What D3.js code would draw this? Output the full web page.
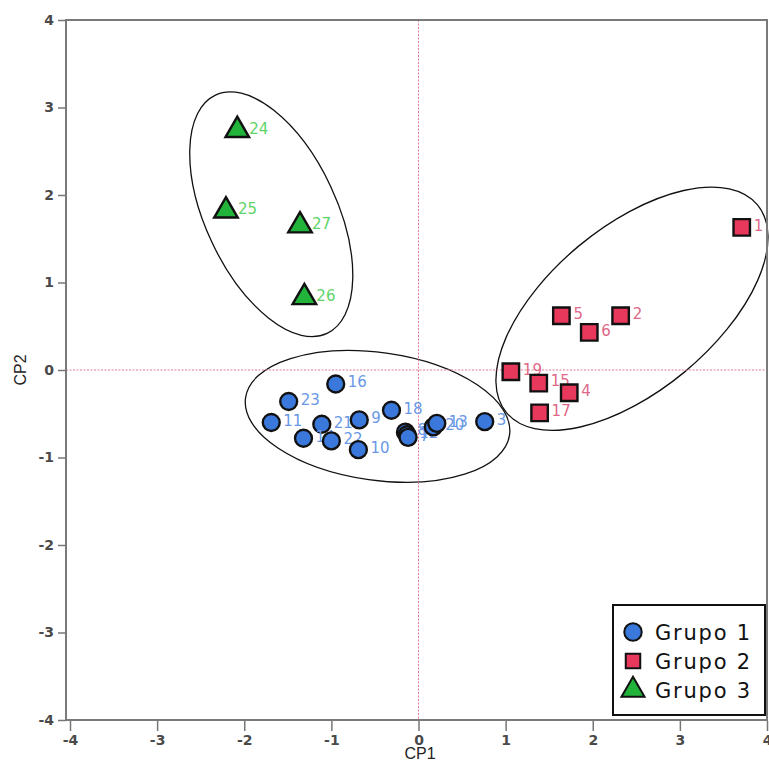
<!DOCTYPE html>
<html>
<head>
<meta charset="utf-8">
<script src="https://cdn.jsdelivr.net/npm/d3@7"></script>
<style>
  body { margin: 0; background: #fff; }
  .tick text { font-family: 'DejaVu Sans', sans-serif; font-weight: bold; font-size: 14px; fill: #4a4a4a; }
  .tick line { stroke: #777; stroke-width: 1.5; }
</style>
</head>
<body>
<div class="chart"></div>
<script>
const w = 769,
      h = 772;

// Grupo 1 (circles)
const g1Labels = ['16', '23', '11', '21', '9', '18', '14', '22', '10', '8', '12', '7', '20', '13', '3'];
const g1CP1 = [-0.95, -1.49, -1.69, -1.11, -0.68, -0.31, -1.32, -1.00, -0.69, -0.15, -0.13, -0.12, 0.17, 0.21, 0.76];
const g1CP2 = [-0.16, -0.36, -0.60, -0.62, -0.57, -0.46, -0.78, -0.81, -0.91, -0.71, -0.74, -0.77, -0.65, -0.61, -0.59];

// Grupo 2 (squares)
const g2Labels = ['1', '5', '2', '6', '19', '15', '4', '17'];
const g2CP1 = [3.71, 1.64, 2.32, 1.96, 1.06, 1.38, 1.73, 1.39];
const g2CP2 = [1.63, 0.62, 0.62, 0.43, -0.02, -0.15, -0.26, -0.49];

// Grupo 3 (triangles)
const g3Labels = ['24', '25', '27', '26'];
const g3CP1 = [-2.08, -2.21, -1.36, -1.31];
const g3CP2 = [2.74, 1.82, 1.65, 0.83];

// cluster ellipses, in data units (centre, half axes, tilt in degrees)
const ellCP1 = [-0.47, 2.45, -1.69];
const ellCP2 = [-0.53, 0.70, 1.78];
const ellA = [1.53, 1.87, 1.51];
const ellB = [0.73, 0.94, 0.75];
const ellTilt = [8, -39.6, 64.9];

const xTicks = [-4, -3, -2, -1, 0, 1, 2, 3, 4];
const yTicks = [-4, -3, -2, -1, 0, 1, 2, 3, 4];
const legendLabels = ['Grupo 1', 'Grupo 2', 'Grupo 3'];

const fills = ['#3a78dc', '#e8395c', '#22b33a'];
const labelColors = ['#6a98e6', '#e06888', '#5ed468'];

const svg = d3
  .select('.chart')
  .append('svg')
  .attr('width', w)
  .attr('height', h);

const xScale = d3.scaleLinear().domain([-4, 4]).range([70, 767]);
const yScale = d3.scaleLinear().domain([-4, 4]).range([720, 20]);

// ellipses
ellCP1.forEach((cx, i) => {
  const px = xScale(cx), py = yScale(ellCP2[i]);
  svg.append('ellipse')
    .attr('cx', 0)
    .attr('cy', 0)
    .attr('rx', xScale(ellA[i]) - xScale(0))
    .attr('ry', yScale(0) - yScale(ellB[i]))
    .attr('transform', `translate(${px},${py}) rotate(${ellTilt[i]})`)
    .style('fill', 'none')
    .style('stroke', '#111')
    .style('stroke-width', 1.3);
});

// zero lines
svg.append('line')
  .attr('x1', 66).attr('x2', 767)
  .attr('y1', yScale(0)).attr('y2', yScale(0))
  .style('stroke', '#e47a96')
  .style('stroke-width', 1)
  .style('stroke-dasharray', '2,1.5');

svg.append('line')
  .attr('x1', xScale(0)).attr('x2', xScale(0))
  .attr('y1', 20).attr('y2', 720)
  .style('stroke', '#e47a96')
  .style('stroke-width', 1)
  .style('stroke-dasharray', '2,1.5');

// frame
svg.append('rect')
  .attr('x', 66)
  .attr('y', 20)
  .attr('width', 767 - 66)
  .attr('height', 700)
  .style('fill', 'none')
  .style('stroke', '#7a7a7a')
  .style('stroke-width', 2);

const xAxis = d3.axisBottom(xScale).tickValues(xTicks).tickSize(10).tickPadding(4).tickFormat(d => String(d));
const yAxis = d3.axisLeft(yScale).tickValues(yTicks).tickSize(8).tickPadding(4).tickFormat(d => String(d));

svg.append('g')
  .attr('transform', 'translate(0, 721)')
  .call(xAxis)
  .call(g => g.select('.domain').remove());

svg.append('g')
  .attr('transform', 'translate(66, 0)')
  .call(yAxis)
  .call(g => g.select('.domain').remove());

svg.append('text')
  .attr('x', 420)
  .attr('y', 759)
  .style('text-anchor', 'middle')
  .style('font-family', 'Liberation Sans, sans-serif')
  .style('font-size', '16px')
  .style('fill', '#222')
  .text('CP1');

svg.append('text')
  .attr('transform', 'translate(26, 370) rotate(-90)')
  .style('text-anchor', 'middle')
  .style('font-family', 'Liberation Sans, sans-serif')
  .style('font-size', '16px')
  .style('fill', '#222')
  .text('CP2');

const shapes = [d3.symbolCircle, d3.symbolSquare, d3.symbolTriangle];
const sizes = [225, 270, 240];

const groups = [
  g1Labels.map((l, i) => ({ label: l, x: g1CP1[i], y: g1CP2[i], g: 0 })),
  g2Labels.map((l, i) => ({ label: l, x: g2CP1[i], y: g2CP2[i], g: 1 })),
  g3Labels.map((l, i) => ({ label: l, x: g3CP1[i], y: g3CP2[i], g: 2 }))
];

groups.forEach(data => {
  const pts = svg.selectAll(null)
    .data(data)
    .enter()
    .append('g')
    .attr('transform', d => `translate(${xScale(d.x)},${yScale(d.y)})`);

  pts.append('path')
    .attr('d', d => d3.symbol().type(shapes[d.g]).size(sizes[d.g])())
    .style('fill', d => fills[d.g])
    .style('stroke', '#111')
    .style('stroke-width', 2.4);

  pts.append('text')
    .attr('x', 12)
    .attr('y', -2)
    .attr('dy', '.35em')
    .style('font-family', 'DejaVu Sans, sans-serif')
    .style('font-size', '15px')
    .style('fill', d => labelColors[d.g])
    .text(d => d.label);
});

// legend
const legendContainer = svg.append('g').attr('id', 'legend');

legendContainer.append('rect')
  .attr('x', 613)
  .attr('y', 605)
  .attr('width', 152)
  .attr('height', 110)
  .style('fill', '#fff')
  .style('stroke', '#111')
  .style('stroke-width', 2);

const legend = legendContainer
  .selectAll('.legend-label')
  .data(legendLabels)
  .enter()
  .append('g')
  .attr('class', 'legend-label')
  .attr('transform', (d, i) => `translate(633, ${632 + i * 29})`);

legend.append('path')
  .attr('d', (d, i) => d3.symbol().type(shapes[i]).size([240, 210, 230][i])())
  .style('fill', (d, i) => fills[i])
  .style('stroke', '#111')
  .style('stroke-width', 2);

legend.append('text')
  .attr('x', 22)
  .attr('y', 0)
  .attr('dy', '.36em')
  .style('font-family', 'DejaVu Sans, sans-serif')
  .style('font-size', '21px')
  .style('letter-spacing', '1.8px')
  .style('fill', '#111')
  .text(d => d);
</script>
</body>
</html>
